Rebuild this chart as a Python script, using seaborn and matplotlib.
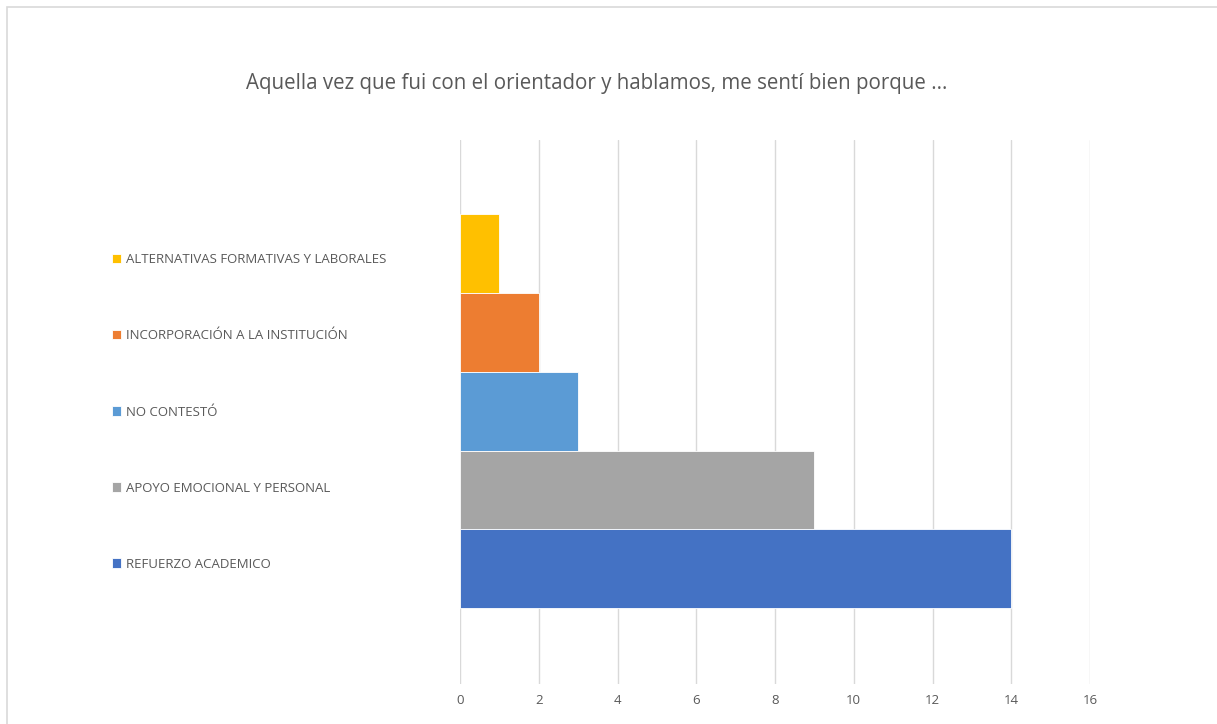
import matplotlib
matplotlib.use("Agg")
import matplotlib.pyplot as plt
import seaborn as sns
import pandas as pd

categories = [
    "ALTERNATIVAS FORMATIVAS Y LABORALES",
    "INCORPORACIÓN A LA INSTITUCIÓN",
    "NO CONTESTÓ",
    "APOYO EMOCIONAL Y PERSONAL",
    "REFUERZO ACADEMICO",
]
counts = [1, 2, 3, 9, 14]
colors = ["#FFC000", "#ED7D31", "#5B9BD5", "#A5A5A5", "#4472C4"]
title = "Aquella vez que fui con el orientador y hablamos, me sentí bien porque ..."

df = pd.DataFrame({"grupo": [""] * len(categories), "respuesta": categories, "n": counts})

sns.set_style("white")
plt.rcParams["font.family"] = ["Open Sans", "DejaVu Sans"]
gray = "#595959"

fig = plt.figure(figsize=(12.17, 7.24), dpi=100)
ax = fig.add_axes([460 / 1217, 1 - 684 / 724, 630 / 1217, 544 / 724])

sns.barplot(data=df, x="n", y="grupo", hue="respuesta", hue_order=categories,
            palette=colors, orient="h", width=0.8, saturation=1,
            edgecolor="white", linewidth=0.6, ax=ax, legend=True)

ax.set_xlim(0, 16)
ax.set_ylim(0.553, -0.549)
ax.set_xticks(range(0, 17, 2))
ax.set_yticks([])
ax.set_xlabel("")
ax.set_ylabel("")
ax.grid(axis="x", color="#d9d9d9", linewidth=1)
ax.set_axisbelow(True)
for s in ax.spines.values():
    s.set_visible(False)
ax.tick_params(axis="x", length=0, pad=7, labelsize=9.5, labelcolor=gray)

handles, labels = ax.get_legend_handles_labels()
ax.get_legend().remove()
fig.legend(handles, labels, loc="center left", bbox_to_anchor=(105 / 1217, 1 - 412 / 724),
           frameon=False, fontsize=9.5, labelcolor=gray, handlelength=0.7, handleheight=0.7,
           handletextpad=0.4, labelspacing=4.78, borderpad=0)

fig.text(597 / 1217, 1 - 83 / 724, title, ha="center", va="center", fontsize=14.8, color=gray)

border = plt.Rectangle((7 / 1217, -0.1), 1.5, 1 - 7 / 724 + 0.1, transform=fig.transFigure,
                       fill=False, edgecolor="#d9d9d9", linewidth=1.2)
fig.patches.append(border)

fig.savefig("out.png", dpi=100)
